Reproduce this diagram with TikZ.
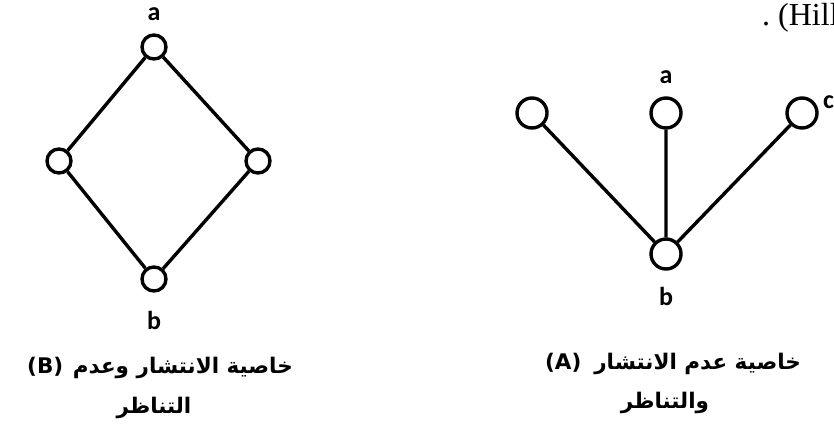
\documentclass[tikz,border=0pt]{standalone}
\usepackage{fontspec}
\setmainfont{Liberation Serif}
\newfontfamily\arabicfont[Script=Arabic]{DejaVu Sans}
\newfontfamily\labelfont{Carlito}
\TeXXeTstate=1
\begin{document}
\begin{tikzpicture}[x=1pt,y=-1pt,
  vsmall/.style={circle,draw,line width=3.4pt,minimum size=24pt,inner sep=0pt},
  vbig/.style={circle,draw,line width=3.4pt,minimum size=30pt,inner sep=0pt},
  conn/.style={line width=3.4pt},
  lbl/.style={font=\labelfont\bfseries\fontsize{26}{30}\selectfont,inner sep=0pt},
  captext/.style={font=\arabicfont\bfseries\fontsize{21.5}{40}\selectfont,align=center,inner sep=0pt}]
\useasboundingbox (0,0) rectangle (834,434);
\clip (0,0) rectangle (834,434);
% left diagram (B)
\node[vsmall] (Ba) at (154,47) {};
\node[vsmall] (Bl) at (59,161) {};
\node[vsmall] (Br) at (258,161) {};
\node[vsmall] (Bb) at (154,279) {};
\draw[conn] (Ba) -- (Bl) (Ba) -- (Br) (Bl) -- (Bb) (Br) -- (Bb);
\node[lbl] (Bla) at (154,14) {a};
\node[lbl] (Blb) at (154,320) {b};
% right diagram (A)
\node[vbig] (Al) at (532,113) {};
\node[vbig] (Aa) at (666,113) {};
\node[vbig] (Ac) at (802,113) {};
\node[vbig] (Ab) at (666,254) {};
\draw[conn] (Al) -- (Ab) (Aa) -- (Ab) (Ac) -- (Ab);
\node[lbl] (Ala) at (666,77) {a};
\node[lbl] (Alb) at (666,296) {b};
\node[lbl,anchor=west] (Alc) at (823,102) {c};
% captions
\node[captext] (capB1) at (160,368) {\beginR خاصية الانتشار وعدم\hspace{0.45em}\beginL(B)\endL\endR};
\node[captext] (capB2) at (154,408) {\beginR التناظر\endR};
\node[captext] (capA1) at (673,364) {\beginR خاصية عدم الانتشار\hspace{0.6em}\beginL(A)\endL\endR};
\node[captext] (capA2) at (665,403) {\beginR والتناظر\endR};
% cut-off reference text
\node[anchor=base west,inner sep=0pt,font=\fontsize{32}{36}\selectfont] (hill) at (762,25) {.\ (Hill};
\end{tikzpicture}
\end{document}
